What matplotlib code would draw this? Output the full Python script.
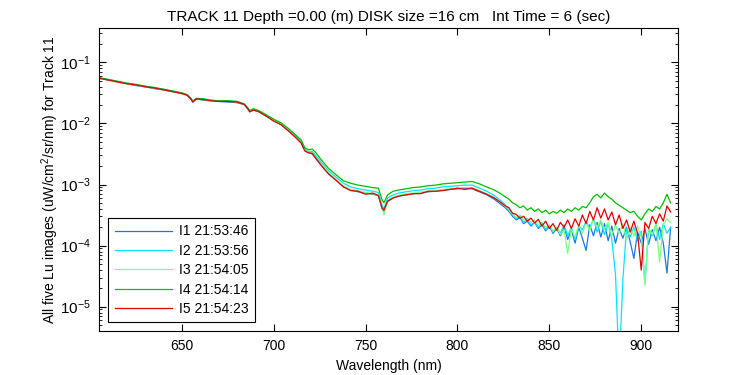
import numpy as np
import matplotlib
matplotlib.use("Agg")
import matplotlib.pyplot as plt
from matplotlib.ticker import LogLocator, FixedLocator

plt.rcParams['font.family'] = ['Liberation Sans', 'DejaVu Sans']
plt.rcParams['mathtext.fontset'] = 'custom'
plt.rcParams['mathtext.rm'] = 'Liberation Sans'
plt.rcParams['mathtext.it'] = 'Liberation Sans'
plt.rcParams['font.size'] = 10

# wavelength grid (nm)
wl = [605, 610, 615, 620, 625, 630, 635, 640, 645, 650, 653, 655, 656, 658, 662, 666,
      670, 675, 680, 684, 686, 687, 689, 692, 696, 700, 704, 708, 712, 715, 717, 719,
      721, 723, 726, 730, 734, 738, 742, 746, 750, 754, 757, 759, 760, 762, 765, 768,
      772, 776, 780, 784, 788, 792, 796, 800, 804, 808, 812, 816, 820, 823, 826,
      828, 830, 832, 834, 836, 838, 840, 842, 844, 846, 848, 850, 852, 854, 856, 858,
      860, 862, 864, 866, 868, 870, 872, 874, 876, 878, 880, 882, 884, 886, 888, 890,
      892, 894, 896, 898, 900, 902, 904, 906, 908, 910, 912, 914, 916]

# log10 of Lu
log_i1 = [-1.26, -1.29, -1.32, -1.35, -1.38, -1.40, -1.43, -1.45, -1.48, -1.51, -1.54, -1.60, -1.65, -1.60, -1.62, -1.63,
          -1.64, -1.65, -1.66, -1.69, -1.77, -1.81, -1.78, -1.81, -1.88, -1.96, -2.02, -2.12, -2.23, -2.32, -2.45, -2.48,
          -2.50, -2.58, -2.69, -2.83, -2.93, -3.04, -3.09, -3.12, -3.14, -3.16, -3.18, -3.40, -3.44, -3.28, -3.22, -3.19,
          -3.17, -3.15, -3.14, -3.12, -3.11, -3.09, -3.08, -3.07, -3.06, -3.07, -3.12, -3.17, -3.24, -3.31, -3.38,
          -3.44, -3.52, -3.58, -3.54, -3.64, -3.60, -3.68, -3.62, -3.72, -3.66, -3.76, -3.68, -3.80, -3.72, -3.84, -3.70,
          -3.90, -3.74, -3.96, -3.70, -3.88, -4.08, -3.66, -3.84, -3.62, -3.86, -3.64, -3.92, -3.68, -3.96, -3.72, -3.88,
          -3.70, -3.94, -4.21, -3.78, -3.96, -3.72, -3.98, -3.74, -3.92, -3.70, -3.96, -4.45, -3.70]
log_i2 = [-1.26, -1.28, -1.31, -1.34, -1.37, -1.39, -1.42, -1.44, -1.47, -1.50, -1.53, -1.59, -1.63, -1.59, -1.60, -1.62,
          -1.63, -1.63, -1.64, -1.68, -1.75, -1.80, -1.77, -1.80, -1.87, -1.94, -2.00, -2.10, -2.20, -2.29, -2.42, -2.46,
          -2.46, -2.53, -2.64, -2.78, -2.88, -2.98, -3.04, -3.07, -3.09, -3.11, -3.13, -3.34, -3.40, -3.22, -3.17, -3.14,
          -3.12, -3.10, -3.09, -3.07, -3.06, -3.04, -3.03, -3.02, -3.01, -3.01, -3.06, -3.11, -3.18, -3.25, -3.33,
          -3.42, -3.50, -3.56, -3.52, -3.62, -3.58, -3.66, -3.62, -3.70, -3.64, -3.74, -3.68, -3.78, -3.70, -3.80, -3.66,
          -3.84, -3.70, -3.90, -3.68, -3.74, -3.60, -3.72, -3.56, -3.78, -3.60, -3.82, -3.64, -3.90, -4.48, -6.00, -4.56,
          -3.72, -3.86, -3.70, -3.92, -3.76, -4.62, -3.74, -3.84, -3.66, -3.90, -3.64, -3.80, -3.70]
log_i3 = [-1.26, -1.29, -1.32, -1.35, -1.37, -1.40, -1.42, -1.45, -1.48, -1.51, -1.54, -1.60, -1.64, -1.60, -1.61, -1.63,
          -1.64, -1.64, -1.65, -1.69, -1.76, -1.80, -1.78, -1.81, -1.88, -1.95, -2.01, -2.11, -2.22, -2.31, -2.44, -2.47,
          -2.48, -2.56, -2.67, -2.81, -2.92, -3.02, -3.08, -3.10, -3.13, -3.15, -3.17, -3.36, -3.50, -3.26, -3.21, -3.18,
          -3.15, -3.14, -3.12, -3.11, -3.10, -3.08, -3.07, -3.06, -3.05, -3.05, -3.10, -3.15, -3.21, -3.28, -3.36,
          -3.40, -3.48, -3.54, -3.50, -3.58, -3.55, -3.62, -3.58, -3.66, -3.62, -3.70, -3.66, -3.76, -3.70, -3.82, -3.74,
          -4.13, -3.72, -3.86, -3.66, -3.80, -3.62, -3.76, -3.56, -3.70, -3.58, -3.74, -3.62, -3.84, -3.66, -3.80, -3.64,
          -3.90, -3.70, -3.84, -3.68, -3.86, -4.65, -3.70, -3.82, -3.64, -4.27, -3.66, -3.56, -3.62]
log_i4 = [-1.25, -1.28, -1.31, -1.34, -1.36, -1.39, -1.41, -1.44, -1.47, -1.50, -1.53, -1.59, -1.64, -1.59, -1.60, -1.62,
          -1.63, -1.63, -1.64, -1.68, -1.75, -1.79, -1.76, -1.79, -1.86, -1.93, -1.99, -2.08, -2.19, -2.27, -2.40, -2.43,
          -2.42, -2.48, -2.60, -2.74, -2.84, -2.94, -2.98, -3.01, -3.03, -3.05, -3.06, -3.25, -3.30, -3.17, -3.11, -3.09,
          -3.07, -3.05, -3.04, -3.02, -3.01, -2.99, -2.98, -2.97, -2.96, -2.95, -2.99, -3.04, -3.09, -3.14, -3.20,
          -3.24, -3.30, -3.33, -3.38, -3.35, -3.42, -3.38, -3.44, -3.40, -3.46, -3.42, -3.48, -3.44, -3.47, -3.42, -3.46,
          -3.40, -3.44, -3.38, -3.42, -3.36, -3.38, -3.30, -3.20, -3.16, -3.22, -3.14, -3.20, -3.24, -3.30, -3.34, -3.38,
          -3.42, -3.46, -3.44, -3.52, -3.58, -3.48, -3.40, -3.44, -3.36, -3.40, -3.30, -3.16, -3.30]
log_i5 = [-1.26, -1.29, -1.32, -1.35, -1.37, -1.40, -1.42, -1.45, -1.48, -1.51, -1.54, -1.60, -1.65, -1.60, -1.61, -1.63,
          -1.64, -1.64, -1.65, -1.69, -1.76, -1.81, -1.78, -1.81, -1.88, -1.96, -2.02, -2.12, -2.23, -2.32, -2.45, -2.48,
          -2.49, -2.57, -2.69, -2.83, -2.93, -3.04, -3.10, -3.11, -3.16, -3.14, -3.18, -3.38, -3.42, -3.27, -3.22, -3.19,
          -3.17, -3.15, -3.15, -3.11, -3.11, -3.10, -3.08, -3.06, -3.08, -3.06, -3.11, -3.16, -3.22, -3.28, -3.35,
          -3.38, -3.47, -3.49, -3.55, -3.52, -3.60, -3.55, -3.63, -3.57, -3.68, -3.60, -3.72, -3.64, -3.75, -3.62, -3.70,
          -3.58, -3.72, -3.56, -3.68, -3.50, -3.64, -3.44, -3.58, -3.38, -3.55, -3.40, -3.58, -3.45, -3.66, -3.50, -3.72,
          -3.58, -3.78, -3.60, -3.80, -4.40, -3.62, -3.72, -3.52, -3.64, -3.48, -3.60, -3.35, -3.45]

labels = ["I1 21:53:46", "I2 21:53:56", "I3 21:54:05", "I4 21:54:14", "I5 21:54:23"]
colors = ["#1a78e6", "#00e6ff", "#80ff80", "#00c000", "#e60000"]


def main():
    fig = plt.figure(figsize=(7.5, 3.75), dpi=100)
    ax = fig.add_axes([0.132, 0.117, 0.772, 0.808])

    x = np.array(wl)
    for logs, lab, col in zip([log_i1, log_i2, log_i3, log_i4, log_i5], labels, colors):
        ax.semilogy(x, 10.0 ** np.array(logs), color=col, lw=0.9, label=lab)

    ax.set_xlim(605, 920)
    ax.set_ylim(10 ** -5.4, 10 ** -0.44)
    ax.xaxis.set_major_locator(FixedLocator([650, 700, 750, 800, 850, 900]))
    ax.yaxis.set_major_locator(LogLocator(base=10, numticks=10))
    ax.yaxis.set_minor_locator(LogLocator(base=10, subs=np.arange(2, 10), numticks=10))
    ax.tick_params(which="both", direction="in", top=True, right=True, labelsize=10)
    ax.tick_params(which="major", length=5, pad=6)
    ax.tick_params(which="minor", length=2.5)
    ax.tick_params(axis="y", labelsize=11, pad=6)
    for s in ax.spines.values():
        s.set_linewidth(0.8)

    ax.set_title("TRACK 11 Depth =0.00 (m) DISK size =16 cm   Int Time = 6 (sec)", fontsize=11, pad=5)
    ax.set_xlabel("Wavelength (nm)", fontsize=10, labelpad=4)
    ax.set_ylabel("All five Lu images (uW/cm$^2$/sr/nm) for Track 11", fontsize=10, labelpad=-1)

    leg = ax.legend(loc="lower left", bbox_to_anchor=(0.016, 0.029), borderaxespad=0,
                    fancybox=False, framealpha=1, edgecolor="black", handlelength=4.15,
                    handletextpad=0.47, labelspacing=0.39, fontsize=10, borderpad=0.45)
    leg.get_frame().set_linewidth(0.8)

    fig.savefig("out.png", dpi=100)


if __name__ == "__main__":
    main()
